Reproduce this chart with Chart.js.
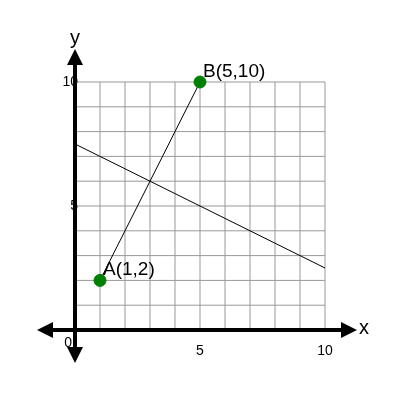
<!DOCTYPE html>
<html><head><meta charset="utf-8">
<script src="https://cdn.jsdelivr.net/npm/chart.js@4"></script>
<style>html,body{margin:0;background:#fff}#wrap{width:400px;height:400px}</style>
</head><body><div id="wrap"><canvas id="c"></canvas></div>
<script>
// points and lines
const pointsXY = [{x: 1, y: 2}, {x: 5, y: 10}];
const pointLabels = ["A(1,2)", "B(5,10)"];
const bisector = [{x: 0, y: 7.5}, {x: 10, y: 2.5}];
const gridValues = [0, 1, 2, 3, 4, 5, 6, 7, 8, 9, 10];
const xTickLabels = [{v: 0, t: "0"}, {v: 5, t: "5"}, {v: 10, t: "10"}];
const yTickLabels = [{v: 5, t: "5"}, {v: 10, t: "10"}];

const gridPlugin = {
    id: 'grid',
    beforeDatasetsDraw(chart) {
        const ctx = chart.ctx, xs = chart.scales.x, ys = chart.scales.y;
        ctx.save();
        ctx.strokeStyle = "#999";
        ctx.lineWidth = 1;
        gridValues.forEach(v => {
            ctx.beginPath();
            ctx.moveTo(xs.getPixelForValue(v), ys.getPixelForValue(0));
            ctx.lineTo(xs.getPixelForValue(v), ys.getPixelForValue(10));
            ctx.moveTo(xs.getPixelForValue(0), ys.getPixelForValue(v));
            ctx.lineTo(xs.getPixelForValue(10), ys.getPixelForValue(v));
            ctx.stroke();
        });
        // axes with arrows
        const a = chart.chartArea;
        const x0 = xs.getPixelForValue(0), y0 = ys.getPixelForValue(0);
        ctx.strokeStyle = "#000";
        ctx.fillStyle = "#000";
        ctx.lineWidth = 4;
        ctx.beginPath();
        ctx.moveTo(a.left + 10, y0); ctx.lineTo(a.right - 10, y0);
        ctx.moveTo(x0, a.top + 10); ctx.lineTo(x0, a.bottom - 10);
        ctx.stroke();
        const tri = (p) => { ctx.beginPath(); ctx.moveTo(...p[0]); ctx.lineTo(...p[1]); ctx.lineTo(...p[2]); ctx.closePath(); ctx.fill(); };
        tri([[a.left, y0], [a.left + 16, y0 - 8], [a.left + 16, y0 + 8]]);
        tri([[a.right, y0], [a.right - 16, y0 - 8], [a.right - 16, y0 + 8]]);
        tri([[x0, a.top], [x0 - 8, a.top + 16], [x0 + 8, a.top + 16]]);
        tri([[x0, a.bottom], [x0 - 8, a.bottom - 16], [x0 + 8, a.bottom - 16]]);
        // tick labels
        ctx.font = "14px Arial";
        ctx.textAlign = "center";
        ctx.textBaseline = "top";
        xTickLabels.forEach(l => {
            if (l.v === 0) { ctx.textAlign = "right"; ctx.fillText(l.t, x0 - 3, y0 + 6); ctx.textAlign = "center"; }
            else ctx.fillText(l.t, xs.getPixelForValue(l.v), y0 + 14);
        });
        ctx.textAlign = "right";
        ctx.textBaseline = "middle";
        yTickLabels.forEach(l => ctx.fillText(l.t, x0 + 3, ys.getPixelForValue(l.v)));
        ctx.font = "20px Arial";
        ctx.textAlign = "center";
        ctx.textBaseline = "bottom";
        ctx.fillText("y", x0, a.top - 1);
        ctx.textAlign = "left";
        ctx.textBaseline = "middle";
        ctx.fillText("x", a.right + 2, y0 - 2);
        ctx.restore();
    },
    afterDatasetsDraw(chart) {
        const ctx = chart.ctx, xs = chart.scales.x, ys = chart.scales.y;
        ctx.save();
        ctx.font = "19px Arial";
        ctx.fillStyle = "#000";
        ctx.textAlign = "left";
        ctx.textBaseline = "bottom";
        pointsXY.forEach((p, i) => ctx.fillText(pointLabels[i], xs.getPixelForValue(p.x) + 3, ys.getPixelForValue(p.y) - 1));
        ctx.restore();
    }
};

new Chart(document.getElementById('c'), {
    type: 'scatter',
    data: {
        datasets: [
            {data: pointsXY, showLine: true, borderColor: '#000', borderWidth: 1,
             pointRadius: 6, pointBackgroundColor: 'green', pointBorderColor: 'green'},
            {data: bisector, showLine: true, borderColor: '#000', borderWidth: 1, pointRadius: 0}
        ]
    },
    options: {
        responsive: true, maintainAspectRatio: false, animation: false,
        layout: {padding: {left: 37, right: 43, top: 49, bottom: 37}},
        plugins: {legend: {display: false}, tooltip: {enabled: false}},
        scales: {
            x: {type: 'linear', display: false, min: -1.52, max: 11.28},
            y: {type: 'linear', display: false, min: -1.33, max: 11.33}
        }
    },
    plugins: [gridPlugin]
});
</script></body></html>
